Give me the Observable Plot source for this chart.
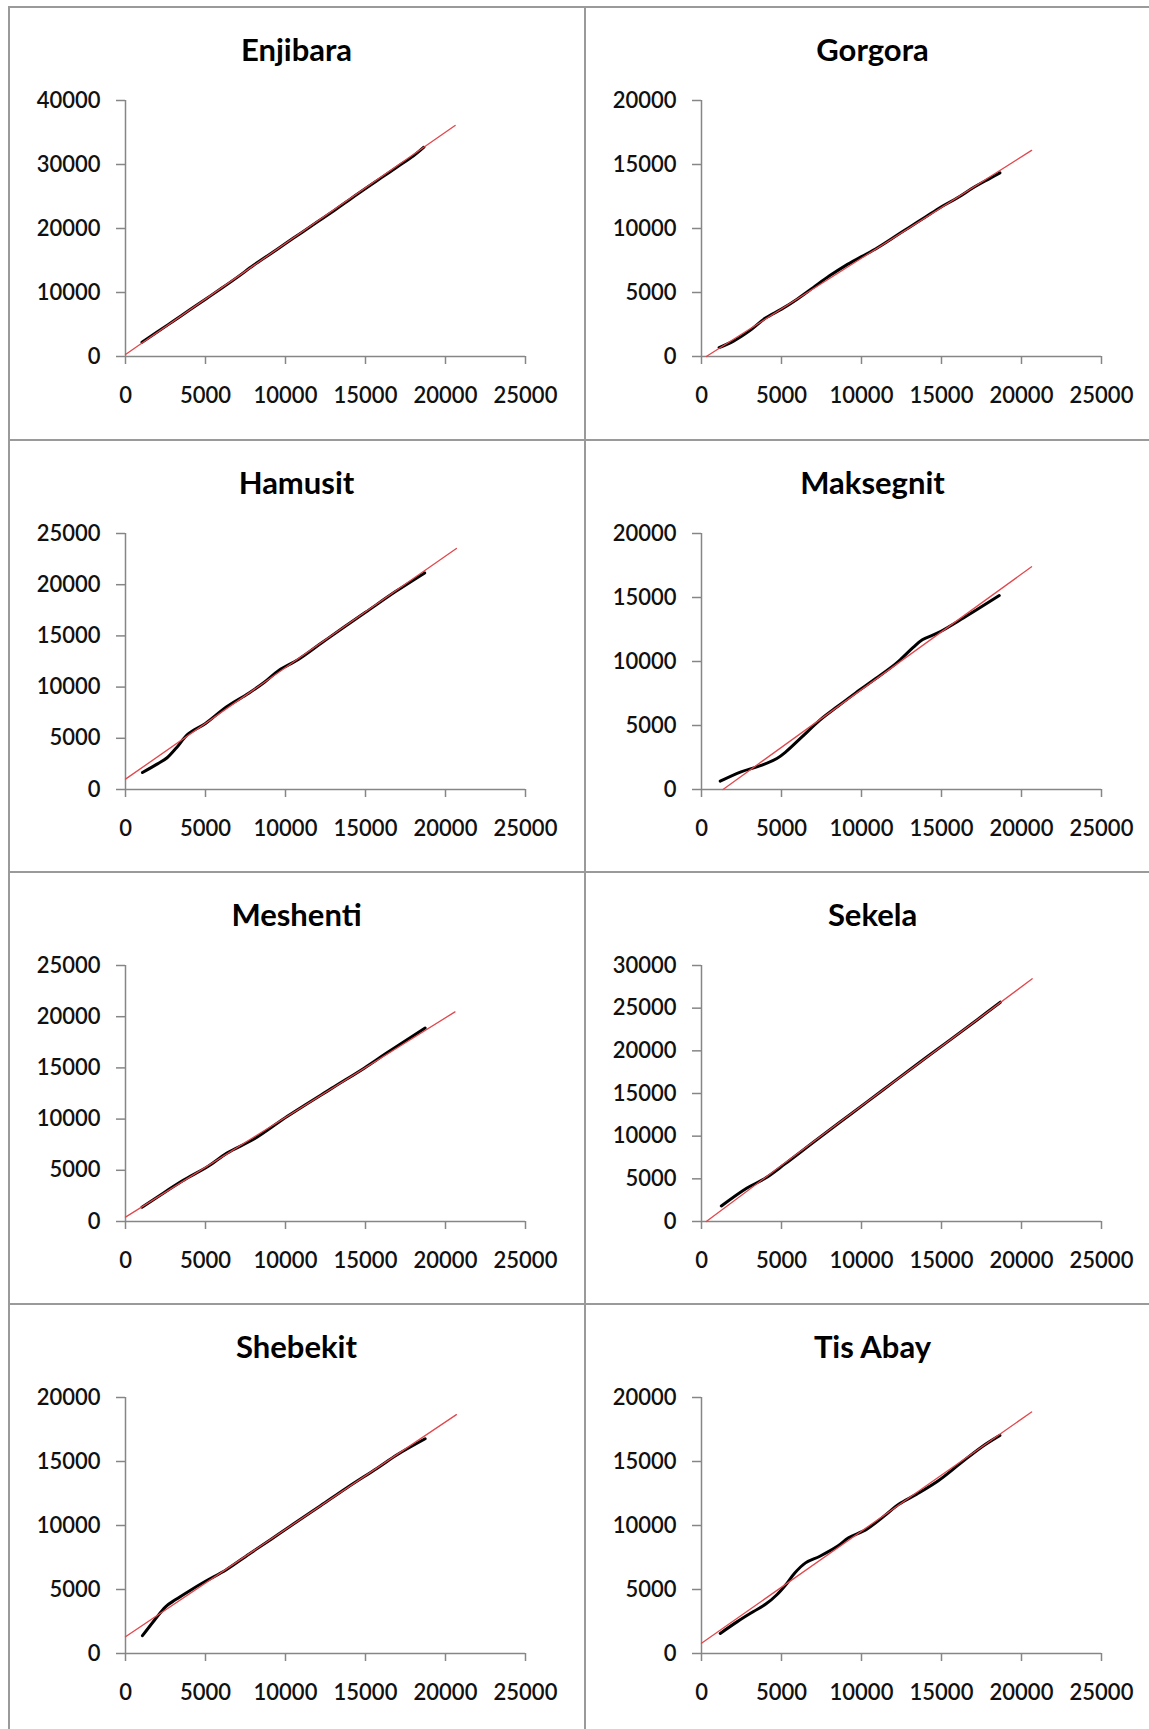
<!DOCTYPE html>
<html>
<head>
<meta charset="utf-8">
<script src="https://cdn.jsdelivr.net/npm/d3@7"></script>
<script src="https://cdn.jsdelivr.net/npm/@observablehq/plot@0.6"></script>
<style>
  html, body { margin: 0; padding: 0; background: #fff; overflow: hidden; }
  #root { position: relative; width: 1149px; height: 1729px; overflow: hidden; background: #fff; }
  .panel { position: absolute; width: 576px; height: 432px; }
  .hline { position: absolute; height: 2px; background: #9a9a9a; }
  .vline { position: absolute; width: 2px; background: #9a9a9a; }
  svg { overflow: visible; }
</style>
</head>
<body>
<div id="root"></div>
<script>
// ---- data ----
const stations = ["Enjibara", "Gorgora", "Hamusit", "Maksegnit", "Meshenti", "Sekela", "Shebekit", "Tis Abay"];
const yMax  = [40000, 20000, 25000, 20000, 25000, 30000, 20000, 20000];
const yStep = [10000, 5000, 5000, 5000, 5000, 5000, 5000, 5000];
const xTicks = [0, 5000, 10000, 15000, 20000, 25000];

const enjibaraX = [1030, 2000, 3000, 4000, 5000, 6000, 7000, 8000, 9000, 10000, 11000, 12000, 13000, 14000, 15000, 16000, 17000, 18000, 18650];
const enjibaraY = [2230, 3850, 5550, 7250, 8950, 10650, 12400, 14250, 15950, 17650, 19350, 21050, 22750, 24500, 26250, 27950, 29650, 31350, 32700];

const gorgoraX = [1100, 2000, 3000, 4000, 5000, 6000, 7000, 8000, 9000, 10000, 11000, 12000, 13000, 14000, 15000, 16000, 17000, 18000, 18650];
const gorgoraY = [700, 1200, 2000, 3000, 3700, 4500, 5400, 6300, 7100, 7800, 8500, 9300, 10100, 10900, 11700, 12400, 13200, 13900, 14350];

const hamusitX = [1060, 2000, 2600, 3200, 3900, 5000, 6300, 7700, 8700, 9600, 10800, 12200, 13600, 15000, 16900, 18700];
const hamusitY = [1660, 2500, 3100, 4100, 5400, 6450, 8050, 9400, 10500, 11650, 12700, 14250, 15800, 17300, 19350, 21150];

const maksegnitX = [1170, 2470, 3590, 4710, 5270, 6280, 7400, 8520, 9640, 10760, 12110, 12560, 13230, 13800, 14800, 16370, 18610];
const maksegnitY = [650, 1380, 1820, 2420, 2940, 4110, 5420, 6500, 7550, 8550, 9800, 10300, 11100, 11700, 12250, 13400, 15150];

const meshentiX = [1030, 2000, 3580, 5170, 6340, 8060, 10120, 12880, 14940, 16320, 18730];
const meshentiY = [1400, 2400, 3990, 5390, 6680, 8080, 10280, 13000, 15000, 16450, 18900];

const sekelaX = [1240, 2820, 3980, 5220, 7280, 9340, 11400, 13460, 15520, 17240, 18680];
const sekelaY = [1820, 3900, 5060, 6750, 9700, 12600, 15500, 18400, 21250, 23650, 25700];

const shebekitX = [1060, 1820, 2520, 3110, 3940, 5000, 6300, 7710, 9130, 10540, 12190, 13840, 15730, 17000, 18730];
const shebekitY = [1390, 2620, 3670, 4190, 4850, 5640, 6550, 7760, 8950, 10150, 11540, 12950, 14480, 15550, 16780];

const tisAbayX = [1170, 2240, 3250, 4040, 4710, 5270, 5830, 6500, 7400, 8520, 9190, 10310, 11430, 12330, 13450, 14800, 16140, 17490, 18650];
const tisAbayY = [1570, 2490, 3280, 3880, 4590, 5370, 6290, 7080, 7600, 8390, 9040, 9700, 10750, 11660, 12450, 13500, 14810, 16120, 17040];

// linear trend lines: start and end points
const trendX0 = [0, 300, 0, 1345, 0, 300, 0, 0];
const trendY0 = [300, 0, 1010, 0, 430, 0, 1310, 800];
const trendX1 = [20600, 20630, 20680, 20630, 20590, 20670, 20680, 20630];
const trendY1 = [36100, 16100, 23540, 17400, 20470, 28440, 18660, 18870];

const seriesX = [enjibaraX, gorgoraX, hamusitX, maksegnitX, meshentiX, sekelaX, shebekitX, tisAbayX];
const seriesY = [enjibaraY, gorgoraY, hamusitY, maksegnitY, meshentiY, sekelaY, shebekitY, tisAbayY];

// ---- layout ----
const root = document.getElementById("root");
const colLeft = [9, 585];
const rowTop = [7, 440, 872, 1304];
const axisGrey = "#868686";
const font = "Lato, 'Open Sans', sans-serif";

stations.forEach((name, i) => {
  const col = i % 2, row = Math.floor(i / 2);
  const pts = seriesX[i].map((x, j) => ({x, y: seriesY[i][j]}));
  const trend = [{x: trendX0[i], y: trendY0[i]}, {x: trendX1[i], y: trendY1[i]}];
  const yTicks = d3.range(0, yMax[i] + 1, yStep[i]);
  const chart = Plot.plot({
    width: 576,
    height: 432,
    marginLeft: 116,
    marginRight: 60,
    marginTop: 93,
    marginBottom: 83,
    style: {fontFamily: font, background: "transparent", color: "#000"},
    x: {domain: [0, 25000]},
    y: {domain: [0, yMax[i]]},
    marks: [
      Plot.ruleX([0], {stroke: axisGrey, strokeWidth: 1.5}),
      Plot.ruleY([0], {stroke: axisGrey, strokeWidth: 1.5}),
      Plot.axisY({ticks: yTicks, tickFormat: "d", label: null, tickSize: 9, tickPadding: 16, stroke: axisGrey, strokeWidth: 1.5, fill: "#111", fontSize: 22, fontWeight: 600, fontFamily: font}),
      Plot.axisX({ticks: xTicks, tickFormat: "d", label: null, tickSize: 8, tickPadding: 23, stroke: axisGrey, strokeWidth: 1.5, fill: "#111", fontSize: 22, fontWeight: 600, fontFamily: font}),
      Plot.line(pts, {x: "x", y: "y", stroke: "#000", strokeWidth: 3, curve: "catmull-rom"}),
      Plot.line(trend, {x: "x", y: "y", stroke: "#e2474c", strokeWidth: 1.3}),
      Plot.text([name], {frameAnchor: "top", dx: -29, dy: -62, text: d => d, fontSize: 31, fontWeight: "bold", fontFamily: font, fill: "#000"})
    ]
  });
  const div = document.createElement("div");
  div.className = "panel";
  div.style.left = colLeft[col] + "px";
  div.style.top = rowTop[row] + "px";
  div.appendChild(chart);
  root.appendChild(div);
});

// panel borders
function hline(x, y, w) { const d = document.createElement("div"); d.className = "hline"; d.style.left = x + "px"; d.style.top = (y - 1) + "px"; d.style.width = w + "px"; root.appendChild(d); }
function vline(x, y, h) { const d = document.createElement("div"); d.className = "vline"; d.style.left = (x - 1) + "px"; d.style.top = y + "px"; d.style.height = h + "px"; root.appendChild(d); }
rowTop.forEach(y => hline(8, y, 1149));
vline(9, 6, 1729);
vline(585, 6, 1729);
</script>
</body>
</html>
